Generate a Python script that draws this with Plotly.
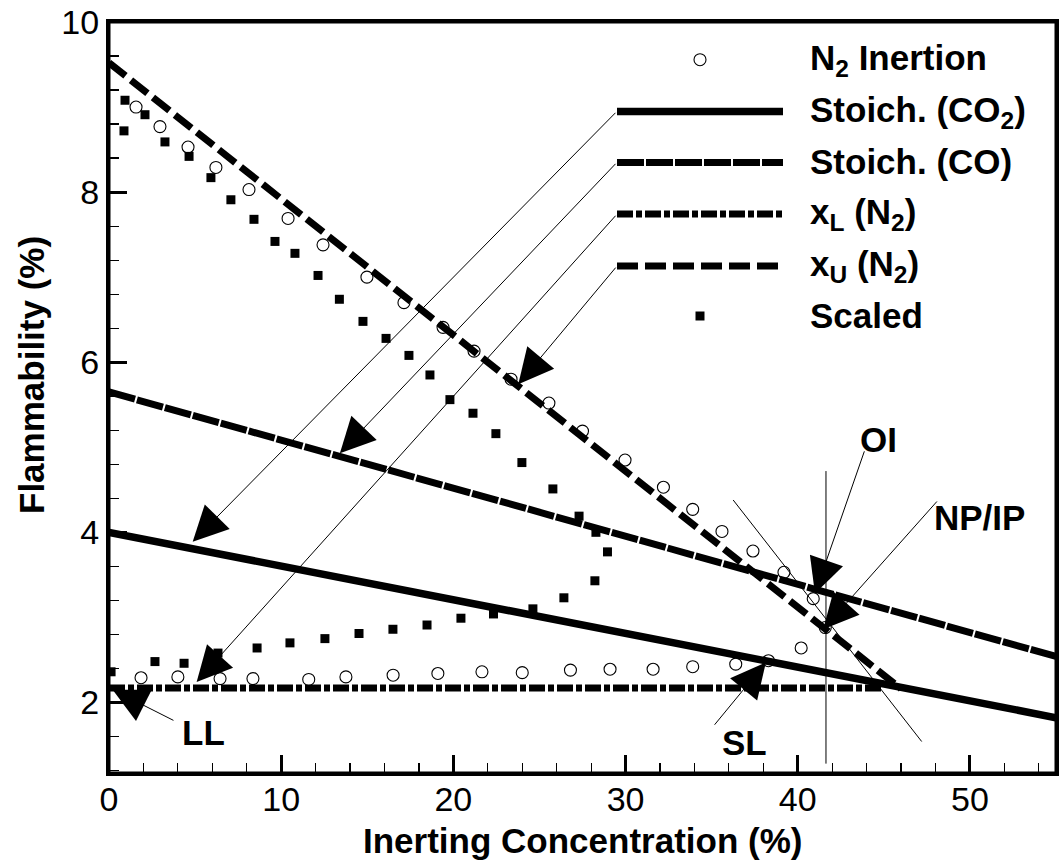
import plotly.graph_objects as go

# ---------------- data ----------------
n2_x = [1.57, 2.96, 4.59, 6.21, 8.13, 10.4, 12.43, 14.98, 17.13, 19.4, 21.2, 23.35, 25.55, 27.5,
        29.97, 32.2, 33.9, 35.6, 37.4, 39.2, 40.9, 41.6,
        40.2, 38.3, 36.4, 33.9, 31.6, 29.1, 26.8, 24.0, 21.66, 19.1, 16.5, 13.76, 11.6, 8.36,
        6.45, 4.0, 1.86]
n2_y = [9.00, 8.77, 8.53, 8.29, 8.03, 7.69, 7.38, 7.00, 6.70, 6.41, 6.13, 5.80, 5.52, 5.19,
        4.85, 4.53, 4.27, 4.01, 3.78, 3.53, 3.22, 2.88,
        2.64, 2.49, 2.45, 2.42, 2.39, 2.39, 2.38, 2.35, 2.36, 2.34, 2.32, 2.30, 2.27, 2.28,
        2.28, 2.30, 2.29]

scaled_x = [0.93, 0.87, 2.09, 3.25, 4.65, 5.92, 7.08, 8.42, 9.64, 10.8, 12.14, 13.38, 14.75,
            16.09, 17.42, 18.64, 19.8, 21.14, 22.47, 23.98, 25.78, 27.3, 28.28, 28.95,
            28.22, 26.42, 24.62, 22.33, 20.44, 18.47, 16.49, 14.52, 12.54, 10.51, 8.6,
            6.33, 4.36, 2.67, 0.12]
scaled_y = [9.08, 8.72, 8.91, 8.59, 8.42, 8.17, 7.91, 7.68, 7.42, 7.28, 7.02, 6.74, 6.48,
            6.28, 6.08, 5.85, 5.56, 5.40, 5.16, 4.82, 4.51, 4.19, 4.00, 3.77,
            3.43, 3.23, 3.10, 3.04, 2.99, 2.91, 2.86, 2.81, 2.75, 2.70, 2.64,
            2.58, 2.46, 2.48, 2.36]

co2_x = [0, 55]
co2_y = [4.00, 1.82]
co_x = [0, 55]
co_y = [5.65, 2.54]
xl_x = [0, 45.0]
xl_y = [2.17, 2.17]
xu_x = [0, 46.0]
xu_y = [9.52, 2.16]

x_ticks = [0, 10, 20, 30, 40, 50]
y_ticks = [2, 4, 6, 8, 10]

# annotation arrows: (tail_x, tail_y, tip_x, tip_y)
arrows = [
    (29.5, 8.95, 4.86, 3.89),    # Stoich CO2
    (29.5, 8.35, 13.41, 4.93),   # Stoich CO
    (29.5, 7.74, 5.09, 2.24),    # xL
    (29.5, 7.13, 23.77, 5.74),   # xU
    (3.83, 1.78, 0.21, 2.15),    # LL
    (35.1, 1.72, 38.15, 2.47),   # SL
    (43.9, 4.97, 41.0, 3.28),    # OI
    (48.16, 4.38, 41.48, 2.86),  # NP/IP
]
point_labels = ["LL", "SL", "OI", "NP/IP"]
point_label_x = [5.46, 36.88, 44.69, 50.58]
point_label_y = [1.65, 1.53, 5.09, 4.18]

vline_x = [41.64, 41.64]
vline_y = [1.28, 4.72]
diag_x = [36.25, 47.2]
diag_y = [4.38, 1.54]

legend_labels = ["N<sub>2</sub> Inertion", "Stoich. (CO<sub>2</sub>)", "Stoich. (CO)",
                 "x<sub>L</sub> (N<sub>2</sub>)", "x<sub>U</sub> (N<sub>2</sub>)", "Scaled"]

# ---------------- layout geometry (page pixels) ----------------
W, H = 1059, 863
PL, PR, PT, PB = 109, 1056, 22, 773
XR = [0, 55]
YR = [1.17, 10]

def px_x(p):
    return (p - PL) / (PR - PL)

def px_y(p):
    return (PB - p) / (PB - PT)

FONT = "Liberation Sans, Arial, sans-serif"
BIG = 35
LW = 7

fig = go.Figure()

fig.add_trace(go.Scatter(x=co2_x, y=co2_y, mode="lines",
                         line=dict(color="black", width=7.5), showlegend=False))
fig.add_trace(go.Scatter(x=co_x, y=co_y, mode="lines",
                         line=dict(color="black", width=LW, dash="27px,2px"), showlegend=False))
fig.add_trace(go.Scatter(x=xl_x, y=xl_y, mode="lines",
                         line=dict(color="black", width=LW, dash="16px,3px,6px,3px"), showlegend=False))
fig.add_trace(go.Scatter(x=xu_x, y=xu_y, mode="lines",
                         line=dict(color="black", width=LW, dash="21px,7px"), showlegend=False))
fig.add_trace(go.Scatter(x=scaled_x, y=scaled_y, mode="markers",
                         marker=dict(symbol="square", size=9, color="black", line=dict(width=0)),
                         showlegend=False))
fig.add_trace(go.Scatter(x=n2_x, y=n2_y, mode="markers",
                         marker=dict(symbol="circle-open", size=12, color="black",
                                     line=dict(width=1.1, color="black")),
                         showlegend=False))

shapes = []
# plot frame
shapes.append(dict(type="rect", xref="paper", yref="paper", x0=0, x1=1, y0=0, y1=1,
                   line=dict(color="black", width=3), fillcolor="rgba(0,0,0,0)", layer="above"))
# thin reference lines
shapes.append(dict(type="line", xref="x", yref="y", x0=vline_x[0], x1=vline_x[1],
                   y0=vline_y[0], y1=vline_y[1], line=dict(color="black", width=1)))
shapes.append(dict(type="line", xref="x", yref="y", x0=diag_x[0], x1=diag_x[1],
                   y0=diag_y[0], y1=diag_y[1], line=dict(color="black", width=1)))

# custom legend
leg_x0, leg_x1 = 617, 783
leg_rows_y = [59.7, 111.5, 162.5, 214, 266, 316]
leg_styles = [None, dict(width=7.5), dict(width=LW, dash="27px,2px"),
              dict(width=LW, dash="16px,3px,6px,3px"), dict(width=LW, dash="21px,7px"), None]
for yy, st in zip(leg_rows_y, leg_styles):
    if st is not None:
        ln = dict(color="black")
        ln.update(st)
        shapes.append(dict(type="line", xref="paper", yref="paper",
                           x0=px_x(leg_x0), x1=px_x(leg_x1), y0=px_y(yy), y1=px_y(yy), line=ln))
cx = 700
r = 6
shapes.append(dict(type="circle", xref="paper", yref="paper",
                   x0=px_x(cx - r), x1=px_x(cx + r), y0=px_y(leg_rows_y[0] + r), y1=px_y(leg_rows_y[0] - r),
                   line=dict(color="black", width=1.1)))
s = 4.5
shapes.append(dict(type="rect", xref="paper", yref="paper",
                   x0=px_x(cx - s), x1=px_x(cx + s), y0=px_y(leg_rows_y[5] + s), y1=px_y(leg_rows_y[5] - s),
                   fillcolor="black", line=dict(width=0)))

leg_text_dy = [0, 0, -1, 0, 0, -1]
annotations = []
for lab, yy, dy in zip(legend_labels, leg_rows_y, leg_text_dy):
    annotations.append(dict(xref="paper", yref="paper", x=px_x(808), y=px_y(yy + dy),
                            xanchor="left", yanchor="middle", text=lab, showarrow=False,
                            font=dict(family=FONT, size=BIG, color="black", weight="bold")))

for (tx, ty, hx, hy) in arrows:
    annotations.append(dict(x=hx, y=hy, ax=tx, ay=ty, xref="x", yref="y", axref="x", ayref="y",
                            text="", showarrow=True, arrowhead=2, arrowsize=7, arrowwidth=1,
                            arrowcolor="black", standoff=0))

for lab, lx, ly in zip(point_labels, point_label_x, point_label_y):
    annotations.append(dict(x=lx, y=ly, xref="x", yref="y", text=lab, showarrow=False,
                            xanchor="center", yanchor="middle",
                            font=dict(family=FONT, size=BIG, color="black", weight="bold")))

# axis titles
annotations.append(dict(xref="paper", yref="paper", x=px_x(582), y=px_y(840),
                        text="Inerting Concentration (%)", showarrow=False,
                        xanchor="center", yanchor="middle",
                        font=dict(family=FONT, size=BIG, color="black", weight="bold")))
annotations.append(dict(xref="paper", yref="paper", x=px_x(31), y=px_y(375),
                        text="Flammability (%)", showarrow=False, textangle=-90,
                        xanchor="center", yanchor="middle",
                        font=dict(family=FONT, size=BIG, color="black", weight="bold")))

axis_common = dict(showgrid=False, zeroline=False, showline=True, linecolor="black",
                   linewidth=3, mirror=True, ticks="inside", ticklen=18, tickwidth=3,
                   tickcolor="black", automargin=False,
                   tickfont=dict(family=FONT, size=34, color="black"))

fig.update_xaxes(range=XR, tickmode="array", tickvals=x_ticks, ticklabelstandoff=-6,
                 minor=dict(dtick=2, tick0=0, ticks="inside", ticklen=10, tickwidth=1.2,
                            tickcolor="black"),
                 **axis_common)
fig.update_yaxes(range=YR, tickmode="array", tickvals=y_ticks,
                 minor=dict(dtick=0.4, tick0=2, ticks="inside", ticklen=10, tickwidth=1.2,
                            tickcolor="black"),
                 **axis_common)

fig.update_layout(width=W, height=H,
                  margin=dict(l=PL, r=W - PR, t=PT, b=H - PB, pad=0),
                  plot_bgcolor="white", paper_bgcolor="white", showlegend=False,
                  hovermode=False, shapes=shapes, annotations=annotations)

# remove the default page margin so the figure sits at the window's top-left corner
fig.write_html("out.html", config={"displayModeBar": False, "staticPlot": True},
               post_script="document.body.style.margin='0';document.body.style.overflow='hidden';")
